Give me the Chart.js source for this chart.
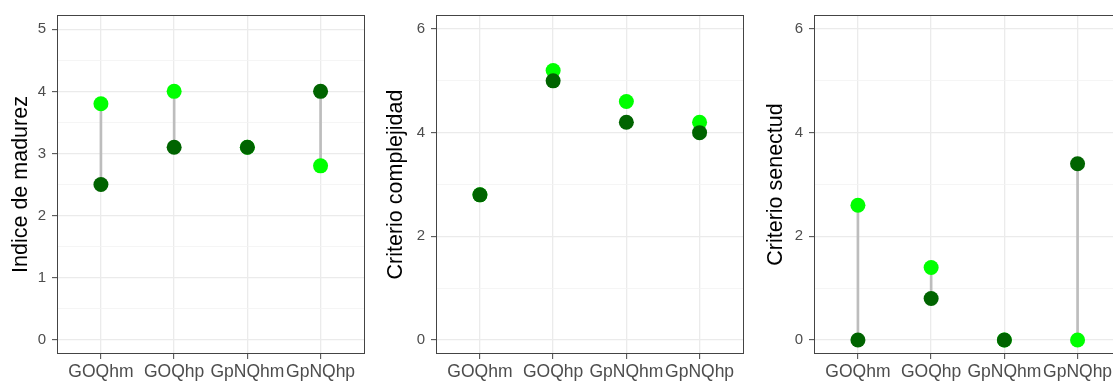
<!DOCTYPE html>
<html>
<head>
<meta charset="utf-8">
<script src="https://cdn.jsdelivr.net/npm/chart.js@4"></script>
<style>
  html, body { margin: 0; padding: 0; background: #fff; overflow: hidden; }
  body { width: 1113px; height: 382px; position: relative; }
  canvas { position: absolute; top: 0; }
</style>
</head>
<body>
<canvas id="c1" width="372" height="382" style="left:0px"></canvas>
<canvas id="c2" width="376" height="382" style="left:375px"></canvas>
<canvas id="c3" width="374" height="382" style="left:755px"></canvas>
<script>
// categorias del eje x
const categories = ['GOQhm', 'GOQhp', 'GpNQhm', 'GpNQhp'];

// Indice de madurez (verde claro / verde oscuro)
const madurezClaro = [3.8, 4.0, 3.1, 2.8];
const madurezOscuro = [2.5, 3.1, 3.1, 4.0];

// Criterio complejidad
const complejidadClaro = [2.8, 5.2, 4.6, 4.2];
const complejidadOscuro = [2.8, 5.0, 4.2, 4.0];

// Criterio senectud
const senectudClaro = [2.6, 1.4, 0, 0];
const senectudOscuro = [0, 0.8, 0, 3.4];

// etiquetas del eje y
const ticksMadurez = [0, 1, 2, 3, 4, 5];
const ticksCriterio = [0, 2, 4, 6];

const FONT = "'Liberation Sans', Arial, Helvetica, sans-serif";

// borde del panel (como theme_bw)
const panelBorder = {
  id: 'panelBorder',
  afterDraw(chart) {
    const { ctx, chartArea: a } = chart;
    const l = Math.round(a.left) + 0.5, t = Math.round(a.top) + 0.5;
    const r = Math.round(a.right) - 0.5, b = Math.round(a.bottom) - 0.5;
    ctx.save();
    ctx.strokeStyle = '#444';
    ctx.lineWidth = 1;
    ctx.strokeRect(l, t, r - l, b - t);
    ctx.restore();
  }
};

function withMinor(majors) {
  const all = [];
  majors.forEach((v, i) => {
    all.push(v);
    if (i < majors.length - 1) all.push((v + majors[i + 1]) / 2);
  });
  return all;
}

function makePanel(id, title, claro, oscuro, majors, yMin, yMax, axisWidth, segments) {
  const allTicks = withMinor(majors);
  const isMajor = v => majors.includes(v);

  const datasets = [
    {
      label: 'oscuro',
      data: oscuro.map((v, i) => ({ x: i, y: v })),
      pointRadius: 7.5,
      pointBackgroundColor: '#006400',
      pointBorderWidth: 0,
      order: 0
    },
    {
      label: 'claro',
      data: claro.map((v, i) => ({ x: i, y: v })),
      pointRadius: 7.5,
      pointBackgroundColor: '#00ff00',
      pointBorderWidth: 0,
      order: 1
    }
  ];
  if (segments) {
    datasets.push({
      type: 'bar',
      label: 'segmento',
      data: claro.map((v, i) => ({ x: i, y: [v, oscuro[i]] })),
      backgroundColor: '#bdbdbd',
      borderWidth: 0,
      barThickness: 2,
      order: 2
    });
  }

  new Chart(document.getElementById(id), {
    type: 'scatter',
    data: { datasets: datasets },
    options: {
      responsive: false,
      animation: false,
      events: [],
      layout: { padding: { top: 12, right: 6, left: 0, bottom: 0 } },
      plugins: { legend: { display: false }, tooltip: { enabled: false } },
      scales: {
        x: {
          type: 'linear',
          min: -0.6,
          max: 3.6,
          offset: false,
          afterBuildTicks: s => { s.ticks = categories.map((c, i) => ({ value: i })); },
          afterFit: s => { s.height = 28; },
          border: { display: false },
          grid: { offset: false, color: '#ebebeb', lineWidth: 1.3, tickLength: 5, tickColor: '#444', tickWidth: 1 },
          ticks: {
            autoSkip: false, maxRotation: 0, padding: 2.5, color: '#4d4d4d',
            font: { size: 17.5, family: FONT },
            callback: v => categories[v]
          }
        },
        y: {
          min: yMin,
          max: yMax,
          afterBuildTicks: s => { s.ticks = allTicks.map(v => ({ value: v })); },
          afterFit: s => { s.width = axisWidth; },
          border: { display: false },
          grid: {
            color: c => (c.tick && !isMajor(c.tick.value)) ? '#f3f3f3' : '#ebebeb',
            lineWidth: c => (c.tick && !isMajor(c.tick.value)) ? 0.8 : 1.3,
            tickColor: c => (c.tick && !isMajor(c.tick.value)) ? 'rgba(0,0,0,0)' : '#444',
            tickLength: 5,
            tickWidth: 1
          },
          ticks: {
            autoSkip: false, padding: 6, color: '#4d4d4d',
            font: { size: 15, family: FONT },
            callback: v => isMajor(v) ? String(v) : ''
          },
          title: {
            display: true, text: title, color: '#000',
            font: { size: 21.5, family: FONT },
            padding: { top: 8, bottom: 0 }
          }
        }
      }
    },
    plugins: [panelBorder]
  });
}

makePanel('c1', 'Indice de madurez', madurezClaro, madurezOscuro, ticksMadurez, -0.23, 5.23, 57, true);
makePanel('c2', 'Criterio complejidad', complejidadClaro, complejidadOscuro, ticksCriterio, -0.27, 6.27, 61, false);
makePanel('c3', 'Criterio senectud', senectudClaro, senectudOscuro, ticksCriterio, -0.27, 6.27, 59, true);
</script>
</body>
</html>
